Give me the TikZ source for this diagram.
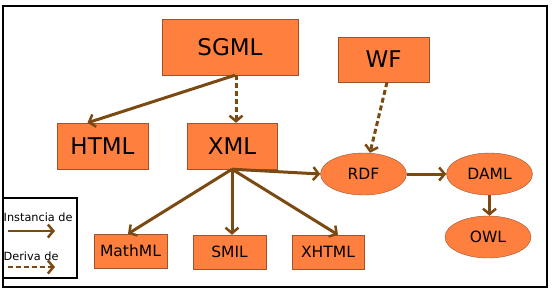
\documentclass[tikz,border=0pt]{standalone}
\usepackage{fontspec}
\setmainfont{DejaVu Sans}
\usepackage{tikz}
\usetikzlibrary{shapes.geometric, arrows.meta, positioning, calc}
\usepackage{xcolor}
\definecolor{mOrange}{HTML}{FF7F3F}
\definecolor{mEdge}  {HTML}{A0522D}
\definecolor{mBrown} {HTML}{7B4A12}

\tikzset{
  bigbox/.style={draw=mEdge, fill=mOrange, inner sep=0pt,
                 font=\fontsize{23}{27}\selectfont},
  smallbox/.style={draw=mEdge, fill=mOrange, inner sep=0pt,
                   minimum width=73pt, minimum height=34pt,
                   font=\fontsize{15.5}{18}\selectfont},
  blob/.style={ellipse, draw=mEdge, fill=mOrange, inner sep=0pt,
               minimum width=86pt, minimum height=42pt,
               font=\fontsize{15.5}{18}\selectfont},
  inst/.style={-{Straight Barb[length=5.5pt, width=13pt, line width=2.5pt]},
               draw=mBrown, line width=3pt},
  deriv/.style={inst, dash pattern=on 5pt off 3pt}
}

\begin{document}
\begin{tikzpicture}[x=1pt, y=-1pt]
    \useasboundingbox (0,0) rectangle (553,293);
    \draw[line width=2pt] (3,6) rectangle (547,287);

    % languages
    \node[bigbox, minimum width=136pt, minimum height=56pt] (sgml) at (230,47) {SGML};
    \node[bigbox, minimum width=91pt, minimum height=45pt] (wf) at (383.5,59.5) {WF};
    \node[bigbox, minimum width=91pt, minimum height=46pt] (html) at (102.5,146) {HTML};
    \node[bigbox, minimum width=90pt, minimum height=46pt] (xml) at (232,146) {XML};
    \node[smallbox] (mathml) at (130.5,251) {MathML};
    \node[smallbox] (smil) at (229.5,252) {SMIL};
    \node[smallbox, minimum width=72pt] (xhtml) at (328,252) {XHTML};
    \node[blob] (rdf) at (363.5,174) {RDF};
    \node[blob] (daml) at (489.5,174) {DAML};
    \node[blob] (owl) at (488,237) {OWL};

    \draw[inst]  ([xshift=5pt]sgml.south) -- ([xshift=-15pt]html.north);
    \draw[deriv] ([xshift=6pt]sgml.south) -- ([xshift=4pt]xml.north);
    \draw[deriv] ([xshift=3.5pt]wf.south) -- ([xshift=6.5pt]rdf.north);
    \draw[inst]  (xml.south) -- (rdf.west);
    \draw[inst]  (xml.south) -- ([xshift=-2.5pt]mathml.north);
    \draw[inst]  (xml.south) -- (xml.south |- smil.north);
    \draw[inst]  (xml.south) -- ([xshift=10pt]xhtml.north);
    \draw[inst]  (rdf) -- (daml);
    \draw[inst]  (daml.south) -- (daml.south |- owl.north);

    % legend
    \draw[line width=2pt] (3,198) rectangle (77,278);
    \node[anchor=west, inner sep=0pt, font=\fontsize{11.3}{13}\selectfont]
      (instlbl) at (3.5,217) {Instancia de};
    \node[anchor=west, inner sep=0pt, font=\fontsize{11.3}{13}\selectfont]
      (derlbl) at (3.5,256) {Deriva de};
    \coordinate (i1) at (8,231);  \coordinate (i2) at (55,231);
    \coordinate (d1) at (8,267);  \coordinate (d2) at (55,267);
    \draw[inst, line width=2pt]  (i1) -- (i2);
    \draw[deriv, line width=2pt] (d1) -- (d2);
\end{tikzpicture}
\end{document}
